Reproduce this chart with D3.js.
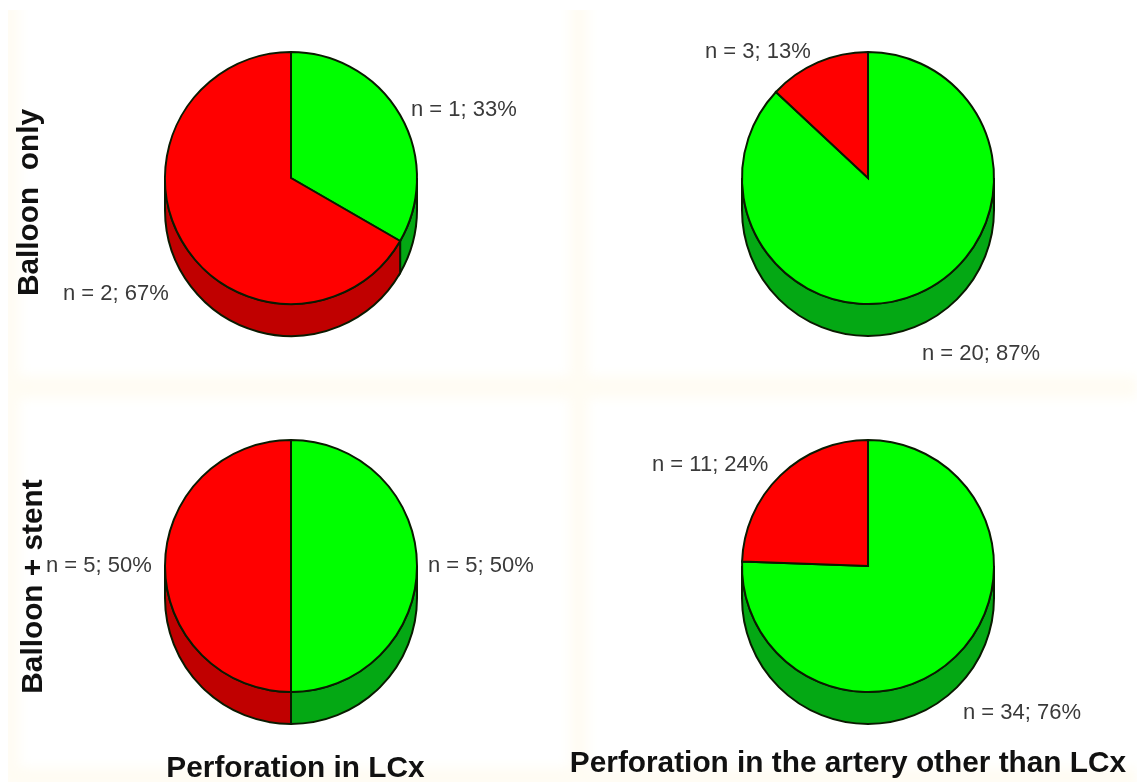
<!DOCTYPE html>
<html>
  <head>
    <meta charset="utf-8">
    <title>Perforation pies</title>
    <script src="https://cdnjs.cloudflare.com/ajax/libs/d3/7.8.5/d3.min.js"></script>
    <style>
      body {
        margin: 0;
        padding: 0;
        background: #fff;
        overflow: hidden;
      }
      svg {
        display: block;
      }
      .soft {
        filter: blur(0.5px);
      }
    </style>
  </head>
  <body>
    <div id="chart"></div>
    <script>
      // Data
      const columnTitles = ["Perforation in LCx", "Perforation in the artery other than LCx"];
      const rowTitles = ["Balloon  only", "Balloon + stent"];
      const sliceNames = ["green", "red"];
      const greenCounts = [1, 20, 5, 34];
      const redCounts = [2, 3, 5, 11];

      const width = 1137, height = 782;
      const radius = 126, depth = 32;
      const font = "'Liberation Sans', Arial, sans-serif";

      const topColor = {green: "#00ff00", red: "#ff0000"};
      const sideColor = {green: "#04a814", red: "#c00000"};

      // Label anchors relative to each pie centre: [green, red]
      const labelSpots = [
        [[120, -70], [-228, 114]],
        [[54, 174], [-163, -128]],
        [[137, -2], [-245, -2]],
        [[95, 145], [-216, -103]]
      ];

      const svg = d3.select("#chart").append("svg")
        .attr("width", width)
        .attr("height", height);

      const defs = svg.append("defs");
      defs.append("filter").attr("id", "fade")
        .attr("x", "-10%").attr("y", "-10%").attr("width", "120%").attr("height", "120%")
        .append("feGaussianBlur").attr("stdDeviation", 6);
      defs.append("clipPath").attr("id", "page")
        .append("rect").attr("x", 8).attr("y", 10).attr("width", width).attr("height", height);

      // Cream paper bands between the panels, with soft edges
      const paper = svg.append("g").attr("clip-path", "url(#page)")
        .append("g").attr("fill", "#fffcf3").attr("filter", "url(#fade)");
      paper.append("rect").attr("x", 0).attr("y", 376).attr("width", width).attr("height", 22);
      paper.append("rect").attr("x", 570).attr("y", 0).attr("width", 18).attr("height", height);
      paper.append("rect").attr("x", 0).attr("y", 0).attr("width", 19).attr("height", height);
      paper.append("rect").attr("x", 0).attr("y", 768).attr("width", width).attr("height", 20);

      const xScale = d3.scalePoint().domain([0, 1]).range([291, 868]);
      const yScale = d3.scalePoint().domain([0, 1]).range([178, 566]);

      const pie = d3.pie().sort(null).value(d => d.value);
      const arc = d3.arc().innerRadius(0).outerRadius(radius);

      // Wall of one slice: only the part that faces the viewer
      function wall(d) {
        const a0 = Math.max(d.startAngle, Math.PI / 2) - Math.PI / 2;
        const a1 = Math.min(d.endAngle, 3 * Math.PI / 2) - Math.PI / 2;
        if (a1 <= a0) return null;
        const p = d3.path();
        p.arc(0, 0, radius, a0, a1);
        p.arc(0, depth, radius, a1, a0, true);
        p.closePath();
        return p.toString();
      }

      const ink = svg.append("g").attr("class", "soft");

      greenCounts.forEach((g, i) => {
        const col = i % 2, row = Math.floor(i / 2);
        const r = redCounts[i];
        const total = g + r;
        const slices = pie(sliceNames.map((name, k) => ({name, value: [g, r][k]})));

        const chart = ink.append("g")
          .attr("transform", `translate(${xScale(col)},${yScale(row)})`);

        chart.selectAll(".side")
          .data(slices)
          .enter()
          .append("path")
          .attr("class", "side")
          .attr("d", wall)
          .attr("fill", d => sideColor[d.data.name])
          .attr("stroke", "#0a1a00")
          .attr("stroke-width", 2);

        chart.selectAll(".slice")
          .data(slices)
          .enter()
          .append("path")
          .attr("class", "slice")
          .attr("d", arc)
          .attr("fill", d => topColor[d.data.name])
          .attr("stroke", "#0a1a00")
          .attr("stroke-width", 2);

        chart.selectAll(".label")
          .data(slices)
          .enter()
          .append("text")
          .attr("class", "label")
          .attr("x", (d, k) => labelSpots[i][k][0])
          .attr("y", (d, k) => labelSpots[i][k][1])
          .attr("dominant-baseline", "central")
          .attr("font-family", font)
          .attr("font-size", 22)
          .attr("fill", "#3a3a3a")
          .text(d => `n = ${d.value}; ${Math.round(d.value / total * 100)}%`);
      });

      // Column titles under the pies
      ink.selectAll(".col-title")
        .data(columnTitles)
        .enter()
        .append("text")
        .attr("class", "col-title")
        .attr("x", (d, i) => [295.5, 848][i])
        .attr("y", (d, i) => [766, 761][i])
        .attr("text-anchor", "middle")
        .attr("dominant-baseline", "central")
        .attr("font-family", font)
        .attr("font-weight", "bold")
        .attr("font-size", 29.8)
        .attr("fill", "#111")
        .text(d => d);

      // Row titles, rotated
      ink.selectAll(".row-title")
        .data(rowTitles)
        .enter()
        .append("text")
        .attr("class", "row-title")
        .attr("transform", (d, i) => `translate(${[27, 31][i]},${[202.5, 586.5][i]}) rotate(-90)`)
        .attr("text-anchor", "middle")
        .attr("dominant-baseline", "central")
        .attr("font-family", font)
        .attr("font-weight", "bold")
        .attr("font-size", 29.8)
        .style("white-space", "pre")
        .attr("fill", "#111")
        .text(d => d);
    </script>
  </body>
</html>
